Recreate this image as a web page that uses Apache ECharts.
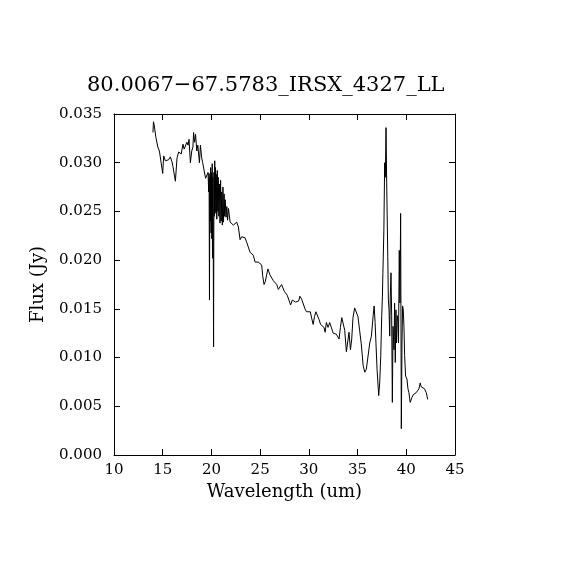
<!DOCTYPE html>
<html>
<head>
    <meta charset="UTF-8">
    <title>80.0067-67.5783_IRSX_4327_LL</title>
    <style>
        html, body { margin: 0; padding: 0; background: #fff; }
        #chart { width: 570px; height: 570px; }
    </style>
</head>
<body>
<div id="chart"></div>
<script src="https://cdn.jsdelivr.net/npm/echarts@6/dist/echarts.min.js"></script>
<script>
    // spectrum
    var wavelength = [
        14.00, 14.05, 14.12, 14.30, 14.50, 14.66, 14.83, 15.00, 15.10, 15.27,
        15.44, 15.60, 15.78, 15.95, 16.05, 16.20, 16.30, 16.47, 16.64, 16.80,
        16.90, 17.08, 17.20, 17.35, 17.48, 17.60, 17.70, 17.84, 17.98, 18.10,
        18.17, 18.27, 18.37, 18.50, 18.60, 18.77, 18.87, 19.00, 19.10, 19.25,
        19.40, 19.55, 19.65, 19.72, 19.76, 19.80, 19.84, 19.88, 19.92, 19.96,
        20.00, 20.04, 20.08, 20.11, 20.14, 20.18, 20.22, 20.26, 20.30, 20.34,
        20.38, 20.42, 20.46, 20.50, 20.55, 20.60, 20.65, 20.70, 20.76, 20.82,
        20.88, 20.94, 21.00, 21.06, 21.12, 21.18, 21.24, 21.30, 21.36, 21.42,
        21.50, 21.58, 21.66, 21.75, 21.92, 22.10, 22.25, 22.43, 22.60, 22.77,
        22.94, 23.10, 23.28, 23.45, 23.63, 23.80, 23.97, 24.14, 24.30, 24.48,
        24.65, 24.80, 24.98, 25.16, 25.26, 25.40, 25.53, 25.67, 25.80, 25.90,
        26.00, 26.20, 26.35, 26.52, 26.70, 26.87, 27.04, 27.20, 27.30, 27.48,
        27.62, 27.78, 27.95, 28.13, 28.30, 28.47, 28.64, 28.80, 28.95, 29.08,
        29.25, 29.40, 29.60, 29.76, 29.93, 30.15, 30.30, 30.44, 30.58, 30.72,
        30.90, 31.05, 31.20, 31.38, 31.55, 31.67, 31.80, 31.97, 32.14, 32.30,
        32.50, 32.65, 32.82, 33.00, 33.10, 33.24, 33.38, 33.50, 33.68, 33.85,
        34.00, 34.12, 34.27, 34.40, 34.53, 34.70, 34.87, 35.04, 35.21, 35.38,
        35.57, 35.74, 35.90, 36.05, 36.25, 36.42, 36.60, 36.70, 36.80, 37.00,
        37.17, 37.27, 37.38, 37.48, 37.55, 37.60, 37.70, 37.78, 37.85, 37.92,
        37.99, 38.10, 38.16, 38.23, 38.30, 38.36, 38.43, 38.50, 38.57, 38.64,
        38.74, 38.80, 38.87, 38.94, 39.00, 39.08, 39.15, 39.20, 39.28, 39.35,
        39.42, 39.49, 39.56, 39.62, 39.69, 39.76, 39.83, 39.93, 40.07, 40.17,
        40.27, 40.40, 40.58, 40.72, 40.85, 41.02, 41.16, 41.30, 41.43, 41.53,
        41.70, 41.87, 42.05, 42.20
    ];
    var flux = [
        0.0331, 0.0342, 0.0339, 0.0326, 0.0316, 0.0312, 0.0311, 0.0289, 0.0307, 0.0302,
        0.0304, 0.0303, 0.0306, 0.0301, 0.0296, 0.0298, 0.0281, 0.0305, 0.0311, 0.0313,
        0.0309, 0.0319, 0.0314, 0.0315, 0.0321, 0.0318, 0.0324, 0.0300, 0.0312, 0.0316,
        0.0331, 0.0321, 0.0329, 0.0312, 0.0318, 0.0300, 0.0318, 0.0305, 0.0300, 0.0302,
        0.0284, 0.0283, 0.0290, 0.0270, 0.0289, 0.0159, 0.0285, 0.0240, 0.0295, 0.0228,
        0.0290, 0.0222, 0.0299, 0.0202, 0.0285, 0.0235, 0.0111, 0.0290, 0.0245, 0.0302,
        0.0250, 0.0295, 0.0248, 0.0288, 0.0242, 0.0292, 0.0250, 0.0285, 0.0245, 0.0278,
        0.0238, 0.0282, 0.0240, 0.0270, 0.0236, 0.0275, 0.0239, 0.0268, 0.0245, 0.0262,
        0.0244, 0.0255, 0.0241, 0.0253, 0.0239, 0.0238, 0.0236, 0.0237, 0.0239, 0.0234,
        0.0221, 0.0224, 0.0222, 0.0223, 0.0218, 0.0217, 0.0208, 0.0206, 0.0205, 0.0198,
        0.0200, 0.0198, 0.0197, 0.0195, 0.0184, 0.0175, 0.0178, 0.0185, 0.0191, 0.0188,
        0.0185, 0.0183, 0.0179, 0.0177, 0.0175, 0.0170, 0.0172, 0.0175, 0.0174, 0.0168,
        0.0166, 0.0164, 0.0163, 0.0154, 0.0159, 0.0161, 0.0157, 0.0159, 0.0158, 0.0163,
        0.0160, 0.0156, 0.0150, 0.0147, 0.0146, 0.0147, 0.0140, 0.0134, 0.0142, 0.0147,
        0.0146, 0.0139, 0.0134, 0.0136, 0.0131, 0.0126, 0.0136, 0.0131, 0.0136, 0.0137,
        0.0125, 0.0126, 0.0124, 0.0126, 0.0119, 0.0131, 0.0141, 0.0142, 0.0128, 0.0106,
        0.0117, 0.0126, 0.0108, 0.0119, 0.0141, 0.0151, 0.0149, 0.0142, 0.0128, 0.0114,
        0.0092, 0.0085, 0.0088, 0.0088, 0.0115, 0.0122, 0.0143, 0.0153, 0.0136, 0.0088,
        0.0061, 0.0074, 0.0102, 0.0143, 0.0163, 0.0187, 0.0231, 0.0300, 0.0285, 0.0336,
        0.0279, 0.0204, 0.0160, 0.0149, 0.0122, 0.0163, 0.0187, 0.0143, 0.0054, 0.0132,
        0.0108, 0.0156, 0.0095, 0.0149, 0.0115, 0.0143, 0.0136, 0.0115, 0.0210, 0.0156,
        0.0248, 0.0027, 0.0115, 0.0153, 0.0149, 0.0132, 0.0102, 0.0081, 0.0078, 0.0068,
        0.0064, 0.0054, 0.0059, 0.0062, 0.0061, 0.0064, 0.0063, 0.0068, 0.0074, 0.0070,
        0.0071, 0.0068, 0.0064, 0.0057
    ];
    var xTicks = [10, 15, 20, 25, 30, 35, 40, 45];
    var yTicks = [0, 0.005, 0.010, 0.015, 0.020, 0.025, 0.030, 0.035];

    var points = [];
    for (var i = 0; i < wavelength.length; i++) {
        points.push([wavelength[i], flux[i]]);
    }

    var font = 'DejaVu Serif';
    var chart = echarts.init(document.getElementById('chart'));

    // shared look for the box axes, ticks point inward
    function boxAxis(extra) {
        var a = {
            type: 'value',
            axisLine: { show: true, onZero: false, lineStyle: { color: '#000', width: 1 } },
            axisTick: { show: true, inside: true, length: 6, lineStyle: { color: '#000' } },
            splitLine: { show: false },
            axisLabel: { show: false }
        };
        for (var k in extra) a[k] = extra[k];
        return a;
    }

    var option = {
        animation: false,
        backgroundColor: '#fff',
        title: {
            text: '80.0067\u221267.5783_IRSX_4327_LL',
            left: 82,
            top: 70,
            textStyle: { fontFamily: font, fontWeight: 'normal', fontSize: 21, color: '#000' }
        },
        grid: { left: 114, top: 114, width: 341, height: 341 },
        xAxis: [
            boxAxis({
                min: xTicks[0], max: xTicks[xTicks.length - 1], interval: 5,
                name: 'Wavelength (um)', nameLocation: 'middle', nameGap: 28,
                nameTextStyle: { fontFamily: font, fontSize: 18, color: '#000' },
                axisLabel: { show: true, margin: 8, fontFamily: font, fontSize: 15, color: '#000' }
            }),
            boxAxis({ position: 'top', min: xTicks[0], max: xTicks[xTicks.length - 1], interval: 5 })
        ],
        yAxis: [
            boxAxis({
                min: yTicks[0], max: yTicks[yTicks.length - 1], interval: 0.005,
                name: 'Flux (Jy)', nameLocation: 'middle', nameGap: 67,
                nameTextStyle: { fontFamily: font, fontSize: 18, color: '#000' },
                axisLabel: {
                    show: true, margin: 12, fontFamily: font, fontSize: 15, color: '#000',
                    formatter: function (v) { return v.toFixed(3); }
                }
            }),
            boxAxis({ position: 'right', min: yTicks[0], max: yTicks[yTicks.length - 1], interval: 0.005 })
        ],
        series: [
            {
                type: 'line',
                data: points,
                showSymbol: false,
                lineStyle: { color: '#000', width: 1 },
                silent: true
            }
        ]
    };
    chart.setOption(option);
</script>
</body>
</html>
